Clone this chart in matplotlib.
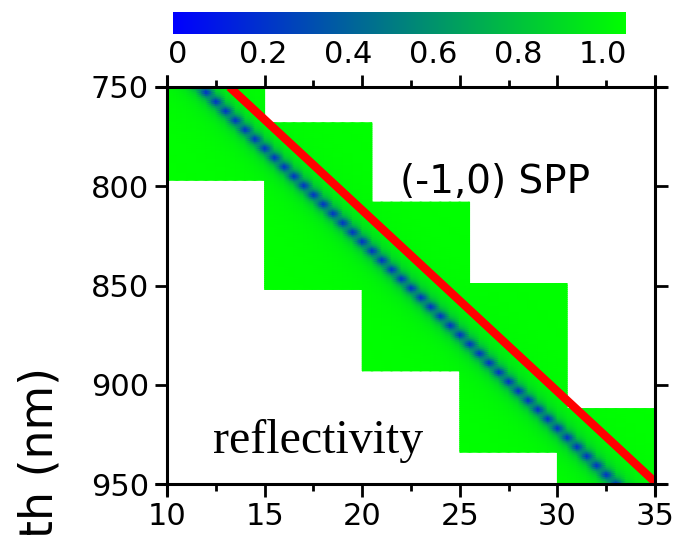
import numpy as np
import matplotlib
matplotlib.use("Agg")
import matplotlib.pyplot as plt
from matplotlib.colors import LinearSegmentedColormap
from matplotlib.ticker import MultipleLocator

# simulated blocks (angle range in deg, wavelength range in nm)
block_x0 = [10.0, 15.0, 20.0, 25.0, 30.0]
block_x1 = [15.0, 20.5, 25.5, 30.5, 35.0]
block_th0 = [750, 768, 808, 849, 912]
block_th1 = [797, 852, 893, 934, 950]

# position of the reflectivity dip (read at two ends)
dip_x = [10.0, 35.0]
dip_th = [734.0, 969.0]
dip_depth = 0.68
dip_hw = 0.24
halo_depth = 0.15
halo_hw = 0.7

# (-1,0) SPP line
spp_x = [13.2, 35.0]
spp_th = [750.0, 949.0]

cbar_ticks = [0, 0.2, 0.4, 0.6, 0.8, 1.0]
cbar_labels = ["0", "0.2", "0.4", "0.6", "0.8", "1.0"]

cmap = LinearSegmentedColormap.from_list("bg", ["#0000ff", "#00ff00"])

fig = plt.figure(figsize=(6.77, 5.35), dpi=100)
ax = fig.add_axes([0.2467, 0.0953, 0.7208, 0.7421])

for x0, x1, t0, t1 in zip(block_x0, block_x1, block_th0, block_th1):
    xs = np.arange(x0, x1 + 1e-6, 0.5)
    ts = np.arange(t0, t1 + 1e-6, 1.0)
    X, T = np.meshgrid(xs, ts)
    xd = np.interp(T, dip_th, dip_x)
    Z = (1 - dip_depth / (1 + ((X - xd) / dip_hw) ** 2)
         - halo_depth / (1 + ((X - xd) / halo_hw) ** 2))
    ax.pcolormesh(X, T, Z, shading="gouraud", cmap=cmap, vmin=0, vmax=1,
                  rasterized=True)

ax.plot(spp_x, spp_th, color="#ff0000", lw=6, solid_capstyle="butt")

ax.set_xlim(10, 35)
ax.set_ylim(950, 750)
ax.xaxis.set_major_locator(MultipleLocator(5))
ax.xaxis.set_minor_locator(MultipleLocator(2.5))
ax.yaxis.set_major_locator(MultipleLocator(50))
ax.tick_params(which="major", direction="out", length=9, width=2,
               labelsize=22, top=True, right=True, pad=4)
ax.tick_params(which="minor", direction="out", length=5, width=2,
               top=True, bottom=True)
ax.tick_params(axis="y", which="minor", left=False, right=False)

# axis lines run a little past the corners
for s in ax.spines.values():
    s.set_visible(False)
ex, ey = 12 / 488, 12 / 397
tr = ax.transAxes
for y in (0, 1):
    ax.plot([-ex, 1 + ex], [y, y], color="black", lw=2.2, transform=tr,
            clip_on=False, solid_capstyle="butt")
for x in (0, 1):
    ax.plot([x, x], [-ey, 1 + ey], color="black", lw=2.2, transform=tr,
            clip_on=False, solid_capstyle="butt")

ax.text(21.94, 803.4, "(-1,0) SPP", fontsize=28, ha="left", va="baseline")
ax.text(12.36, 934.4, "reflectivity", fontsize=34.5,
        family="Liberation Serif", ha="left", va="baseline")

fig.text(53 / 677, 168 / 535, "Wavelength (nm)", rotation=90,
         rotation_mode="anchor", ha="right", va="baseline", fontsize=33)

# colour bar on top
cax = fig.add_axes([0.2555, 0.9364, 0.6677, 0.0411])
lo, hi = -0.012, 1.052
grad = np.linspace(0, 1, 256)[np.newaxis, :]
cax.imshow(grad, aspect="auto", cmap=cmap, extent=[lo, hi, 0, 1])
cax.set_xlim(lo, hi)
cax.set_yticks([])
cax.set_xticks(cbar_ticks)
cax.set_xticklabels(cbar_labels)
cax.tick_params(axis="x", length=0, labelsize=22, pad=4)
for s in cax.spines.values():
    s.set_visible(False)

fig.savefig("out.png", dpi=100)
